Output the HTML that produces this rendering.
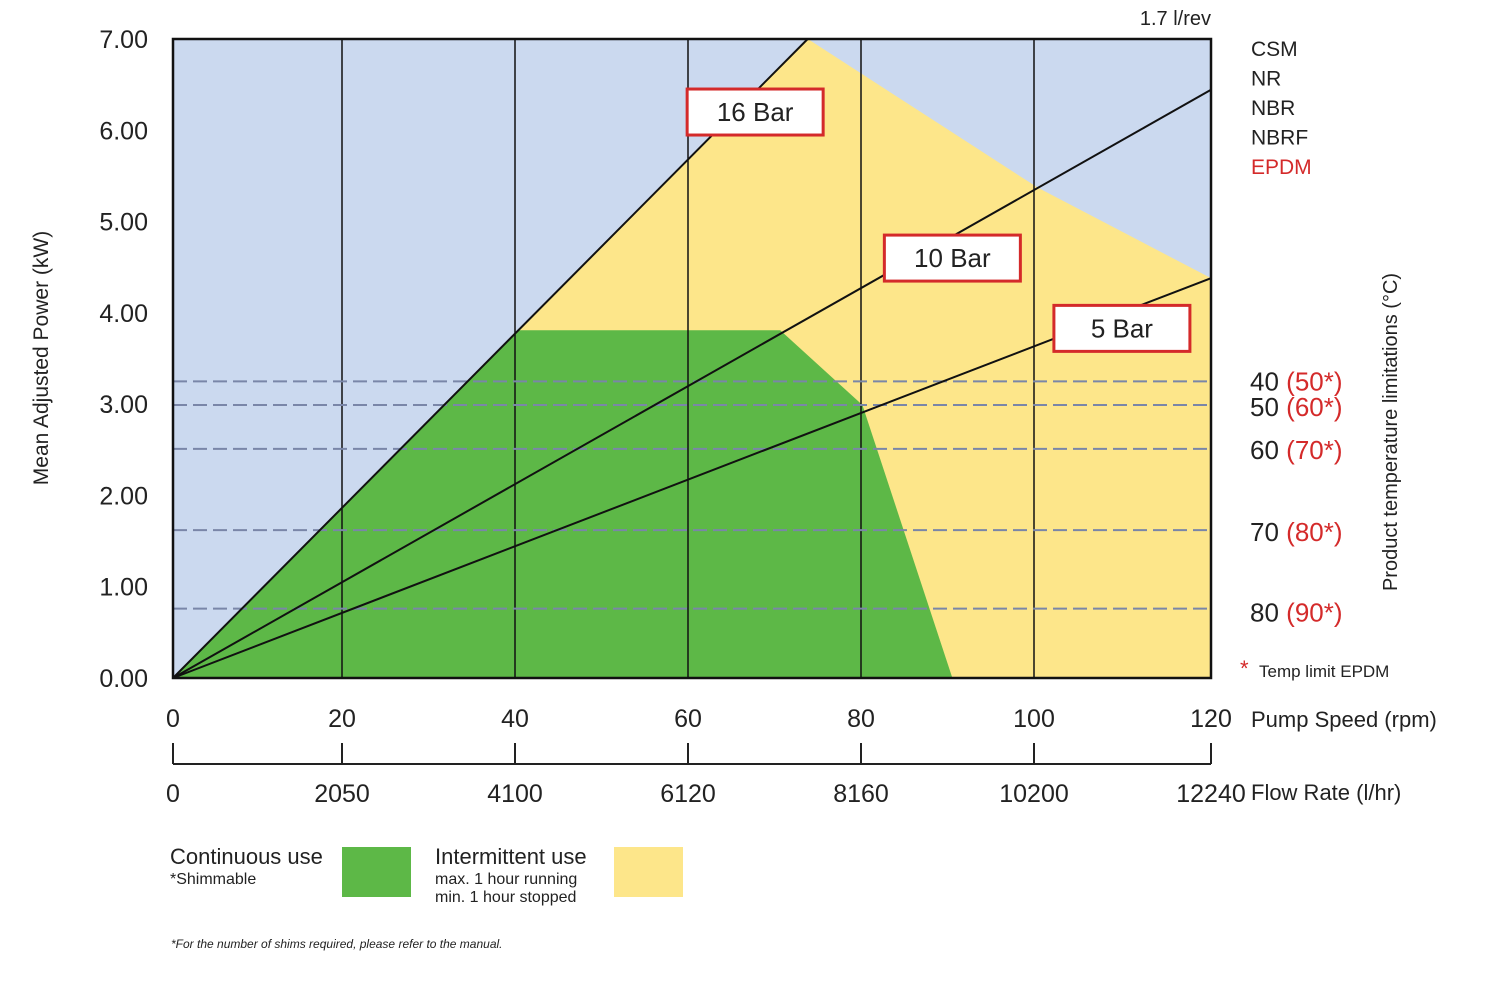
<!DOCTYPE html>
<html><head><meta charset="utf-8"><style>
body{margin:0;background:#fff;}
svg text{font-family:"Liberation Sans",sans-serif;}
</style></head><body>
<svg id="chart" width="1500" height="978" viewBox="0 0 1500 978" xmlns="http://www.w3.org/2000/svg">
<g id="plot"></g>
<g id="overlay"></g>
</svg>
<script>
const yTicks=["0.00","1.00","2.00","3.00","4.00","5.00","6.00","7.00"];
const speedTicks=[0,20,40,60,80,100,120];
const flowTicks=["0","2050","4100","6120","8160","10200","12240"];
const pressureLabels=["16 Bar","10 Bar","5 Bar"];
const pressureSlopes=[0.0954,0.0537,0.0365];
const labelRpm=[67.3,90.1,109.7];
const labelKw=[6.2,4.6,3.83];
const yellowUpper=[[73.4,7.0],[100,5.37],[120,4.38]];
const greenX=[0,40,70.2,79.7,90.1];
const greenY=[0,3.81,3.81,2.99,0];
const dashKw=[3.25,2.99,2.51,1.62,0.76];
const tempMain=["40","50","60","70","80"];
const tempEpdm=["(50*)","(60*)","(70*)","(80*)","(90*)"];
const tempLabelKw=[3.25,2.97,2.5,1.6,0.72];
const materials=["CSM","NR","NBR","NBRF","EPDM"];

const X0=173,X1=1211,Y0=678,Y1=39;
const sx=v=>X0+(X1-X0)*v/120;
const sy=v=>Y0-(Y0-Y1)*v/7;
const NS="http://www.w3.org/2000/svg";
function mk(tag,attrs,parent,txt){const e=document.createElementNS(NS,tag);for(const k in attrs)e.setAttribute(k,attrs[k]);if(txt!==undefined)e.textContent=txt;parent.appendChild(e);return e;}
const P=document.getElementById('plot'),O=document.getElementById('overlay');

let r=mk('rect',{x:X0,y:Y1,width:X1-X0,height:Y0-Y1,fill:'#cbd9ef'},P);


let yp=[[0,0]];
yellowUpper.forEach(p=>yp.push(p));
yp.push([120,0]);
let ye=mk('polygon',{points:yp.map(p=>sx(p[0])+','+sy(p[1])).join(' '),fill:'#fde68a'},P);


let gp=greenX.map((x,i)=>sx(x)+','+sy(greenY[i])).join(' ');
let ge=mk('polygon',{points:gp,fill:'#5db847'},P);


speedTicks.slice(1,-1).forEach(v=>{let l=mk('line',{x1:sx(v)-4,x2:sx(v)-4,y1:Y1,y2:Y0,stroke:'#111','stroke-width':1.5},P);

});
dashKw.forEach(v=>{let l=mk('line',{x1:X0,x2:X1,y1:sy(v),y2:sy(v),stroke:'#7a86a8','stroke-width':2,'stroke-dasharray':'14 6'},P);

});
pressureSlopes.forEach((s,i)=>{let xe=Math.min(120,7/s);let l=mk('line',{x1:sx(0),y1:sy(0),x2:sx(xe),y2:sy(s*xe),stroke:'#111','stroke-width':2},P);

});
let fr=mk('rect',{x:X0,y:Y1,width:X1-X0,height:Y0-Y1,fill:'none',stroke:'#111','stroke-width':2.5},P);


pressureLabels.forEach((t,i)=>{const cx=sx(labelRpm[i]),cy=sy(labelKw[i]);
let b=mk('rect',{x:cx-68,y:cy-23,width:136,height:46,fill:'#fff',stroke:'#d42a2a','stroke-width':3},O);


let tx=mk('text',{x:cx,y:cy+9,'font-size':26,'text-anchor':'middle',fill:'#222'},O,t);

});
yTicks.forEach((t,i)=>{let tx=mk('text',{x:148,y:sy(i)+9,'font-size':25,'text-anchor':'end',fill:'#222'},O,t);

});
speedTicks.forEach((v,i)=>{const off=(i==0||i==6)?0:-4;
let tx=mk('text',{x:sx(v)+off,y:727,'font-size':25,'text-anchor':'middle',fill:'#222'},O,String(v));


let tk=mk('line',{x1:sx(v)+off,x2:sx(v)+off,y1:743,y2:764,stroke:'#222','stroke-width':2},O);

});
let ax=mk('line',{x1:X0,x2:X1,y1:764,y2:764,stroke:'#222','stroke-width':2},O);


flowTicks.forEach((t,i)=>{const off=(i==0||i==6)?0:-4;
let tx=mk('text',{x:sx(speedTicks[i])+off,y:802,'font-size':25,'text-anchor':'middle',fill:'#222'},O,t);

});
tempMain.forEach((t,i)=>{let tx=mk('text',{x:1250,y:sy(tempLabelKw[i])+9,'font-size':26,fill:'#222'},O);


mk('tspan',{},tx,t+' ');mk('tspan',{fill:'#d42a2a'},tx,tempEpdm[i]);});
materials.forEach((t,i)=>{let tx=mk('text',{x:1251,y:56+i*29.5,'font-size':21,fill:i==4?'#d42a2a':'#222'},O,t);

});
</script>
<svg style="position:absolute;left:0;top:0" width="1500" height="978">
<text x="1211" y="25" font-size="20" text-anchor="end" fill="#222" font-family="Liberation Sans">1.7 l/rev</text>
<text transform="translate(48,358) rotate(-90)" font-size="21" text-anchor="middle" fill="#222" font-family="Liberation Sans">Mean Adjusted Power (kW)</text>
<text transform="translate(1397,432) rotate(-90)" font-size="20" text-anchor="middle" fill="#222" font-family="Liberation Sans">Product temperature limitations (°C)</text>
<text x="1240" y="676" font-size="22" fill="#d42a2a" font-family="Liberation Sans">*</text>
<text x="1259" y="677" font-size="17" fill="#222" font-family="Liberation Sans">Temp limit EPDM</text>
<text x="1251" y="727" font-size="22" fill="#222" font-family="Liberation Sans">Pump Speed (rpm)</text>
<text x="1251" y="800" font-size="22" fill="#222" font-family="Liberation Sans">Flow Rate (l/hr)</text>
<text x="170" y="864" font-size="22" fill="#222" font-family="Liberation Sans">Continuous use</text>
<text x="170" y="884" font-size="16" fill="#222" font-family="Liberation Sans">*Shimmable</text>
<rect x="342" y="847" width="69" height="50" fill="#5db847"/>
<text x="435" y="864" font-size="22" fill="#222" font-family="Liberation Sans">Intermittent use</text>
<text x="435" y="884" font-size="16" fill="#222" font-family="Liberation Sans">max. 1 hour running</text>
<text x="435" y="902" font-size="16" fill="#222" font-family="Liberation Sans">min. 1 hour stopped</text>
<rect x="614" y="847" width="69" height="50" fill="#fde68a"/>
<text x="171" y="948" font-size="12" font-style="italic" fill="#222" font-family="Liberation Sans">*For the number of shims required, please refer to the manual.</text>
</svg>
</body></html>
